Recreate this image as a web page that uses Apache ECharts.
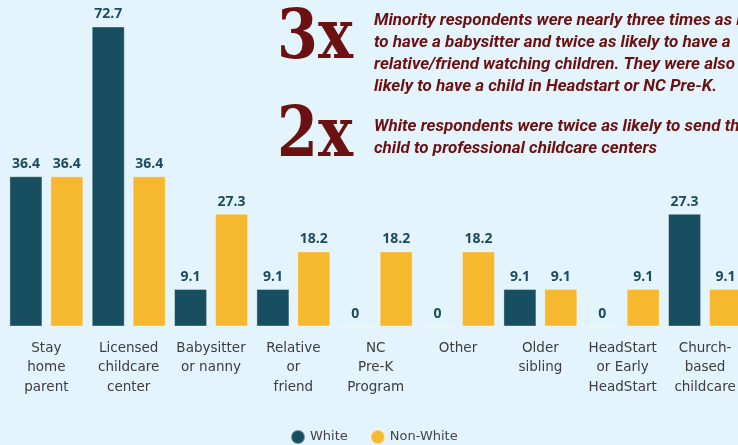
<!DOCTYPE html>
<html>
<head>
<meta charset="utf-8">
<script src="https://cdn.jsdelivr.net/npm/echarts@6/dist/echarts.min.js"></script>
<style>
  html, body { margin: 0; padding: 0; background: #e3f4fc; }
  #chart { width: 738px; height: 445px; }
</style>
</head>
<body>
<div id="chart"></div>
<script>
// Childcare arrangements by respondent group (percent)
const categories = [
  'Stay\nhome\nparent',
  'Licensed\nchildcare\ncenter',
  'Babysitter\nor nanny',
  'Relative\nor\nfriend',
  'NC\nPre-K\nProgram',
  'Other',
  'Older\nsibling',
  'HeadStart\nor Early\nHeadStart',
  'Church-\nbased\nchildcare'
];
const whiteValues    = [36.4, 72.7, 9.1, 9.1, 0, 0, 9.1, 0, 27.3];
const nonWhiteValues = [36.4, 36.4, 27.3, 18.2, 18.2, 18.2, 9.1, 9.1, 9.1];
const seriesNames = ['White', 'Non-White'];

const noteThree = [
  'Minority respondents were nearly three times as likely',
  'to have a babysitter and twice as likely to have a',
  'relative/friend watching children. They were also more',
  'likely to have a child in Headstart or NC Pre-K.'
].join('\n');
const noteTwo = [
  'White respondents were twice as likely to send their',
  'child to professional childcare centers'
].join('\n');

const DARK = '#174f60';
const GOLD = '#f5b82e';
const MAROON = '#6b1111';

const chart = echarts.init(document.getElementById('chart'), null, { renderer: 'canvas' });

const valueLabel = {
  show: true,
  position: 'top',
  distance: 5,
  color: '#1b4b5c',
  fontFamily: 'Open Sans',
  fontWeight: 'bold',
  fontSize: 14
};

chart.setOption({
  backgroundColor: '#e3f4fc',
  animation: false,
  grid: { left: 5.2, width: 741, top: 17, bottom: 118.5, outerBoundsMode: 'none', containLabel: false },
  xAxis: {
    type: 'category',
    data: categories,
    axisLine: { show: false },
    axisTick: { show: false },
    axisLabel: {
      interval: 0,
      margin: 12,
      color: '#3d3d3d',
      fontFamily: 'DejaVu Sans',
      fontSize: 13.5,
      lineHeight: 19.5
    }
  },
  yAxis: {
    type: 'value',
    min: 0,
    max: 75,
    show: false,
    splitLine: { show: false }
  },
  legend: {
    data: seriesNames,
    bottom: 0,
    left: 290,
    padding: 0,
    icon: 'circle',
    itemWidth: 14,
    itemHeight: 14,
    itemGap: 22,
    textStyle: { color: '#444', fontFamily: 'DejaVu Sans', fontSize: 13 }
  },
  series: [
    {
      name: seriesNames[0],
      type: 'bar',
      data: whiteValues,
      barWidth: 33,
      barGap: '24%',
      itemStyle: { color: DARK, borderColor: 'rgba(255,255,255,0.35)', borderWidth: 1 },
      label: valueLabel
    },
    {
      name: seriesNames[1],
      type: 'bar',
      data: nonWhiteValues,
      barWidth: 33,
      itemStyle: { color: GOLD, borderColor: 'rgba(255,255,255,0.35)', borderWidth: 1 },
      label: valueLabel
    }
  ],
  graphic: [
    {
      type: 'text', x: 277, y: 5, scaleX: 0.84,
      style: { text: '3x', fill: MAROON, font: 'bold 70px "DejaVu Serif"' }
    },
    {
      type: 'text', x: 374, y: 10,
      style: { text: noteThree, fill: MAROON, font: 'italic bold 17px Roboto', lineHeight: 22 }
    },
    {
      type: 'text', x: 277, y: 103, scaleX: 0.84,
      style: { text: '2x', fill: MAROON, font: 'bold 70px "DejaVu Serif"' }
    },
    {
      type: 'text', x: 374, y: 116,
      style: { text: noteTwo, fill: MAROON, font: 'italic bold 17px Roboto', lineHeight: 22 }
    }
  ]
});
</script>
</body>
</html>
